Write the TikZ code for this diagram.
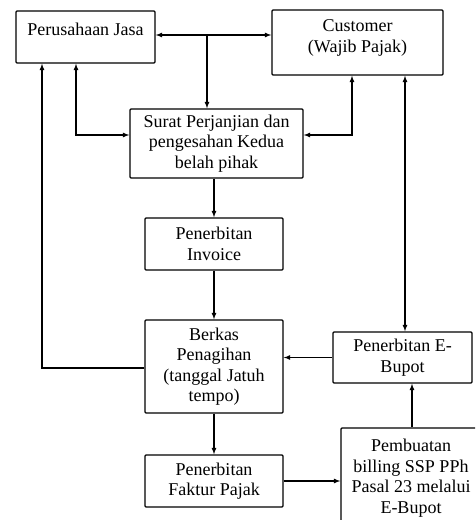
\documentclass[tikz,border=0pt]{standalone}
\usepackage{fontspec}
\setmainfont{Liberation Serif}
\usetikzlibrary{positioning}

\begin{document}
\begin{tikzpicture}[x=1pt, y=-1pt, >=latex,
    main/.style={draw, line width=1.4pt, rounded corners=1pt, align=center, inner sep=2pt,
      font=\fontsize{18}{20.5}\selectfont},
    line/.style={line width=1.2pt}]
		\useasboundingbox (0,0) rectangle (475,520);
		\clip (0,0) rectangle (475,520);

		\node[main, minimum width=139pt, minimum height=52pt, text depth=16pt] (pj) at (85.5,37) {Perusahaan Jasa};
		\node[main, minimum width=171pt, minimum height=65pt] (cust) at (357.5,42.5) {Customer\\(Wajib Pajak)\\[-8pt]\mbox{}};
		\node[main, minimum width=173pt, minimum height=69pt] (surat) at (216.5,143.5) {Surat Perjanjian dan\\pengesahan Kedua\\belah pihak};
		\node[main, minimum width=138pt, minimum height=52pt] (inv) at (214,244) {Penerbitan\\Invoice};
		\node[main, minimum width=138pt, minimum height=93pt] (berkas) at (214,366.5) {Berkas\\Penagihan\\(tanggal Jatuh\\tempo)};
		\node[main, minimum width=139pt, minimum height=51pt] (ebupot) at (402.5,357.5) {Penerbitan E-\\Bupot};
		\node[main, minimum width=138pt, minimum height=52pt] (faktur) at (214,481) {Penerbitan\\Faktur Pajak};
		\node[main, minimum width=140pt, minimum height=100pt] (pemb) at (411,478) {Pembuatan\\billing SSP PPh\\Pasal 23 melalui\\E-Bupot};

		% bends of the connectors
		\coordinate (j1) at (207,35);
		\coordinate (l1) at (42,368);
		\coordinate (l2) at (76,135);
		\coordinate (r1) at (352,135);
		\coordinate (r2) at (405,0);
		\coordinate (r3) at (412,0);

		\draw[line,<->] (pj.east |- j1) -- (cust.west |- j1);
		\draw[line,->] (j1) -- (j1 |- surat.north);
		\draw[line,<->] (l2 |- pj.south) |- (surat.west |- l2);
		\draw[line,<->] (r1 |- cust.south) |- (surat.east |- r1);
		\draw[line,->] (berkas.west |- l1) -| (l1 |- pj.south);
		\draw[line,<->] (r2 |- cust.south) -- (r2 |- ebupot.north);
		\draw[line,->] (inv.north |- surat.south) -- (inv.north);
		\draw[line,->] (inv) -- (berkas);
		\draw[line,->] (berkas) -- (faktur);
		\draw[line,->] (ebupot.west) -- (berkas.east |- ebupot.west);
		\draw[line,->] (faktur.east) -- (pemb.west |- faktur.east);
		\draw[line,->] (r3 |- pemb.north) -- (r3 |- ebupot.south);
	\end{tikzpicture}
\end{document}
